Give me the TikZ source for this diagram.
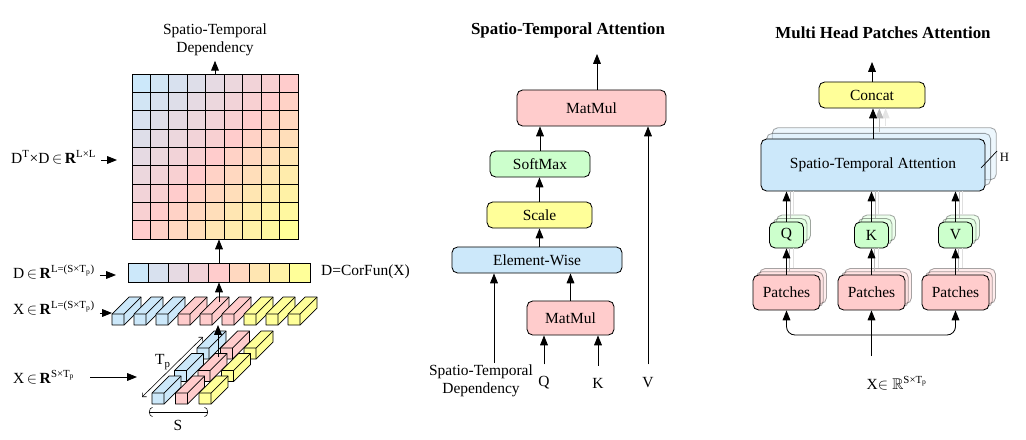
\documentclass[tikz,border=0pt]{standalone}
\usepackage{fontspec}
\setmainfont{Liberation Serif}
\usepackage{amssymb}
\usetikzlibrary{arrows.meta,positioning,shadows}
\definecolor{stblue}{HTML}{CCE8FA}
\definecolor{stpink}{HTML}{FFCCCC}
\definecolor{styellow}{HTML}{FFFF99}
\definecolor{stgreen}{HTML}{CCFFCC}
\tikzset{
    arr/.style={-{Triangle[length=7pt,width=5.5pt]}, line width=0.6pt},
    dimarr/.style={{Straight Barb[angle=90:3pt]}-{Straight Barb[angle=90:3pt]}, line width=0.4pt},
    sarr/.style={{Arc Barb[length=2.5pt,width=7pt]}-{Arc Barb[length=2.5pt,width=7pt]}, line width=0.4pt},
    box/.style={draw, rounded corners=4pt, line width=0.6pt, inner sep=0pt},
    stack/.style={double copy shadow={shadow xshift=#1, shadow yshift=#1, opacity=0.35}},
    blockline/.style={line width=0.5pt, line join=round},
    title/.style={font=\fontsize{12}{14}\selectfont\bfseries}
}
% one oblique bar: x, y of front top-left corner, fill
\newcommand{\stblock}[3]{%
  \filldraw[blockline, fill=#3] (#1,#2+11) -- (#1,#2) -- ++(17,-17) -- ++(12,0) -- ++(0,11) -- (#1+12,#2+11) -- cycle;
  \draw[blockline] (#1,#2) -- ++(12,0) -- ++(0,11) ++(0,-11) -- ++(17,-17);
}

\begin{document}
\begin{tikzpicture}[x=0.025cm, y=-0.025cm, line width=0.6pt,
    every node/.style={font=\fontsize{11}{13}\selectfont}]
\useasboundingbox (0,0) rectangle (1026,440);

% ---- correlation part ----
\node[minimum width=4.15cm, minimum height=4.125cm, inner sep=0pt] (dmat) at (215,156.5) {};
\foreach \i in {0,...,8}{
  \foreach \j in {0,...,8}{
    \pgfmathtruncatemacro\tval{(\i+\j)*100/16}
    \ifnum\tval<50 \pgfmathtruncatemacro\mval{2*\tval}\colorlet{cellc}{stpink!\mval!stblue}%
    \else \pgfmathtruncatemacro\mval{2*\tval-100}\colorlet{cellc}{styellow!\mval!stpink}\fi
    \filldraw[fill=cellc] (132+18.444*\i,74+18.333*\j) rectangle ++(18.444,18.333);
  }
}
\node[minimum width=4.55cm, minimum height=0.475cm, inner sep=0pt] (dbar) at (219,272.5) {};
\foreach \k in {0,...,8}{
  \pgfmathtruncatemacro\tval{\k*100/8}
  \ifnum\tval<50 \pgfmathtruncatemacro\mval{2*\tval}\colorlet{cellc}{stpink!\mval!stblue}%
  \else \pgfmathtruncatemacro\mval{2*\tval-100}\colorlet{cellc}{styellow!\mval!stpink}\fi
  \filldraw[fill=cellc] (128+20.222*\k,263) rectangle ++(20.222,19);
}
\foreach \k/\col in {0/stblue,1/stblue,2/stblue,3/stpink,4/stpink,5/stpink,6/styellow,7/styellow,8/styellow}
  \stblock{112+22*\k}{314}{\col};
\foreach \r in {2,1,0}
  \foreach \c/\col in {0/stblue,1/stpink,2/styellow}
    \stblock{152+23.5*\c+22.5*\r}{393-22.5*\r}{\col};

\node[align=center] (deplbl) at (215,39.5) {Spatio-Temporal\\Dependency};
\draw[arr] (dmat.north) -- (deplbl.south);
\draw[arr] (dbar.north) -- (dbar.north |- dmat.south);
\coordinate (rowtail) at (219,302);
\draw[arr] (rowtail) -- (rowtail |- dbar.south);
\coordinate (gridtail) at (218,357);
\coordinate (rowbot) at (218,325);
\draw[arr] (gridtail) -- (rowbot);

\node[anchor=west] (dtdlbl) at (6,157) {D\textsuperscript{T}×D\,$\in$\,\textbf{R}\textsuperscript{L×L}};
\coordinate (dmatin) at (117,160);
\draw[arr] (dtdlbl.east |- dmatin) -- (dmatin);
\node[anchor=west] (dlbl) at (8,272) {D\,$\in$\,\textbf{R}\textsuperscript{L=(S×T\textsubscript{p})}};
\coordinate (dbarin) at (116,275);
\draw[arr] (dlbl.east |- dbarin) -- (dbarin);
\node[anchor=west] (xllbl) at (8,308) {X\,$\in$\,\textbf{R}\textsuperscript{L=(S×T\textsubscript{p})}};
\coordinate (xrowin) at (112,313);
\draw[arr] (xllbl.east |- xrowin) -- (xrowin);
\node[anchor=west] (xslbl) at (8,377) {X\,$\in$\,\textbf{R}\textsuperscript{S×T\textsubscript{p}}};
\coordinate (xgridtail) at (90,377);
\coordinate (xgridin) at (137,377);
\draw[arr] (xgridtail) -- (xgridin);
\node[anchor=west] (corfun) at (316,272) {D=CorFun(X)};

\coordinate (tpa) at (142,397);
\coordinate (tpb) at (203,337);
\draw[dimarr] (tpa) -- (tpb);
\node (tplbl) at (163,362) {T\textsubscript{p}};
\coordinate (sa) at (149,412);
\coordinate (sb) at (208,412);
\draw[sarr] (sa) -- (sb);
\node (slbl) at (178,425) {S};

% ---- spatio-temporal attention ----
\node[title] (sttitle) at (568,30) {Spatio-Temporal Attention};
\node[box, fill=stpink, minimum width=3.725cm, minimum height=0.9cm] (mmtop) at (591.5,108) {MatMul};
\node[box, fill=stgreen, minimum width=2.5cm, minimum height=0.65cm] (softmax) at (540,164) {SoftMax};
\node[box, fill=styellow, minimum width=2.625cm, minimum height=0.65cm] (scale) at (539.5,215) {Scale};
\node[box, fill=stblue, minimum width=4.25cm, minimum height=0.65cm] (elemwise) at (537,260) {Element-Wise};
\node[box, fill=stpink, minimum width=2.175cm, minimum height=0.85cm] (mmbot) at (570.5,318) {MatMul};

\coordinate (stout) at (597,54);
\draw[arr] (mmtop.north -| stout) -- (stout);
\draw[arr] (softmax.north) -- (softmax.north |- mmtop.south);
\draw[arr] (scale.north) -- (scale.north |- softmax.south);
\draw[arr] (scale.south |- elemwise.north) -- (scale.south);
\draw[arr] (mmbot.north) -- (mmbot.north |- elemwise.south);

\node[align=center] (deplbl2) at (481,381) {Spatio-Temporal\\Dependency};
\coordinate (deptail) at (494,363);
\draw[arr] (deptail) -- (deptail |- elemwise.south);
\node (qlbl) at (544,383) {Q};
\node (klbl) at (598,383) {K};
\node (vlbl) at (648,383) {V};
\draw[arr, shorten <=5pt] (qlbl.north) -- (qlbl.north |- mmbot.south);
\draw[arr, shorten <=5pt] (klbl.north) -- (klbl.north |- mmbot.south);
\draw[arr, shorten <=6pt] (vlbl.north) -- (vlbl.north |- mmtop.south);

% ---- multi head patches attention ----
\node[title] (mhtitle) at (883,33) {Multi Head Patches Attention};
\node[box, fill=styellow, minimum width=2.65cm, minimum height=0.65cm] (concat) at (872,95) {Concat};
\node[box, fill=stblue, minimum width=5.6cm, minimum height=1.3cm, stack=4pt] (sta) at (873,165) {Spatio-Temporal Attention};
\foreach \n/\x/\lbl in {q/786.5/Q, k/871.5/K, v/955.5/V}
  \node[box, fill=stgreen, minimum width=0.85cm, minimum height=0.65cm, stack=2.5pt] (\n) at (\x,235) {\lbl};
\foreach \n/\x in {p1/786.5, p2/871.5, p3/955.5}
  \node[box, fill=stpink, minimum width=1.675cm, minimum height=0.875cm, stack=2.3pt] (\n) at (\x,292.5) {Patches};

\coordinate (mhout) at (872,62);
\draw[arr] (concat.north) -- (mhout);
\draw[arr, gray!20] ([xshift=9pt, yshift=9pt]sta.north) -- ([xshift=9pt]sta.north |- concat.south);
\draw[arr, gray!55] ([xshift=4.5pt, yshift=4.5pt]sta.north) -- ([xshift=4.5pt]sta.north |- concat.south);
\draw[arr] (sta.north) -- (sta.north |- concat.south);
\foreach \n in {q,k,v}{
  \draw[gray!25] ([shift={(5pt,5pt)}]\n.north) -- ([xshift=5pt]\n.north |- sta.south);
  \draw[gray!55] ([shift={(2.5pt,2.5pt)}]\n.north) -- ([xshift=2.5pt]\n.north |- sta.south);
  \draw[arr] (\n.north) -- (\n.north |- sta.south);
}
\foreach \p/\n in {p1/q, p2/k, p3/v}{
  \draw[gray!25] ([shift={(4.6pt,4.6pt)}]\p.north) -- ([xshift=4.6pt]\p.north |- \n.south);
  \draw[gray!55] ([shift={(2.3pt,2.3pt)}]\p.north) -- ([xshift=2.3pt]\p.north |- \n.south);
  \draw[arr] (\p.north) -- (\p.north |- \n.south);
}

\node (xall) at (897,383) {X$\in\mathbb{R}$\textsuperscript{S×T\textsubscript{p}}};
\coordinate (xtail) at (871.5,356);
\coordinate (split) at (871.5,335);
\draw[arr] (xtail) -- (p2.south);
\draw[arr, rounded corners=6pt] (split) -| (p1.south);
\draw[arr, rounded corners=6pt] (split) -| (p3.south);

\coordinate (hs1) at (981,168);
\coordinate (hs2) at (997,151);
\draw[line width=0.5pt] (hs1) -- (hs2);
\node[anchor=west, inner sep=1pt, font=\fontsize{9}{10}\selectfont] (hlbl) at (998,157) {H};
\end{tikzpicture}
\end{document}
